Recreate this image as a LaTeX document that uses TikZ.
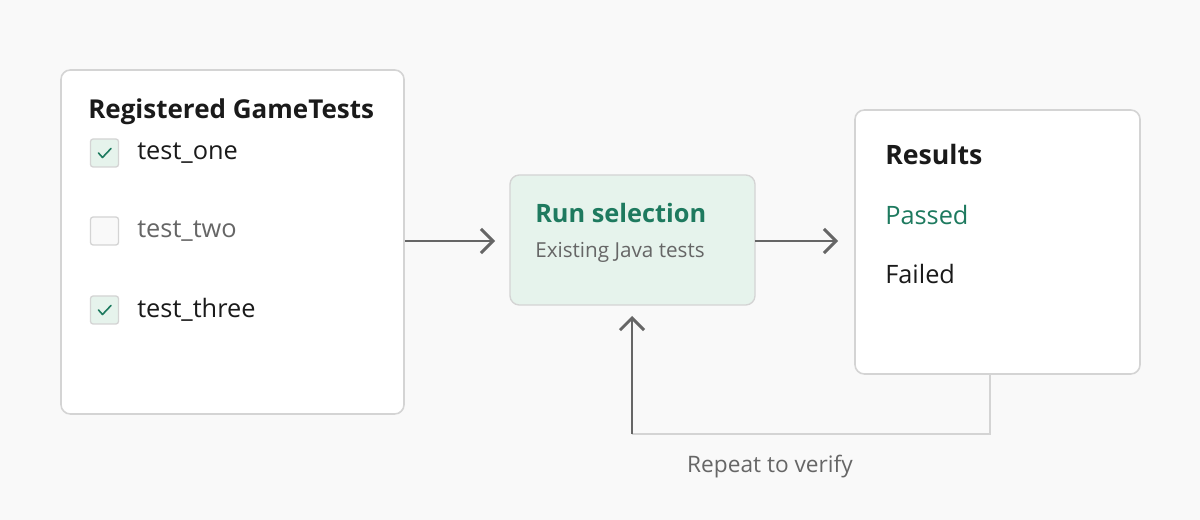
\documentclass[tikz,border=0pt]{standalone}
\usepackage{fontspec}
\setmainfont{Open Sans}
\usetikzlibrary{arrows.meta}
\definecolor{bg}{HTML}{F9F9F9}
\definecolor{bd}{HTML}{D4D4D4}
\definecolor{grn}{HTML}{1E7A5F}
\definecolor{lg}{HTML}{E6F3EC}
\definecolor{dg}{HTML}{666666}
\definecolor{tx}{HTML}{1A1A1A}
\begin{document}
\begin{tikzpicture}[x=0.75pt,y=-0.75pt,
 box/.style={draw=bd,line width=1.2pt,fill=white,rounded corners=7pt},
 cb/.style={draw=bd,line width=1pt,fill=#1,rounded corners=2pt,minimum size=21pt,inner sep=0pt},
 lbl/.style={anchor=west,inner sep=0pt,font=\fontsize{19}{21}\selectfont},
 arr/.style={draw=dg,line width=2.2pt,-{Straight Barb[length=9pt,width=18pt]}},
 chk/.style={draw=grn,line width=1.2pt,line cap=round,line join=round}]
\fill[bg] (0,0) rectangle (1200,520);
\useasboundingbox (0,0) rectangle (1200,520);
\draw[box] (61,70) rectangle (404,414);
\node[draw=bd,line width=1pt,fill=lg,rounded corners=7pt,minimum width=183.75pt,minimum height=97.5pt] (run) at (632.5,240) {};
\draw[box] (855,110) rectangle (1140,374);
\coordinate (L) at (405,241);
\node[lbl,font=\bfseries\fontsize{19.5}{22}\selectfont,text=tx] (title) at (88,112) {Registered GameTests};
\node[cb=lg] (c1) at (104.5,153) {};
\node[cb=bg] (c2) at (104.5,231) {};
\node[cb=lg] (c3) at (104.5,310) {};
\draw[chk] (98.5,153) -- (102.5,157.5) -- (111,148.5);
\draw[chk] (98.5,310) -- (102.5,314.5) -- (111,305.5);
\node[lbl,text=tx] (t1) at (137,153) {test\_one};
\node[lbl,text=dg] (t2) at (137,231) {test\_two};
\node[lbl,text=tx] (t3) at (137,310) {test\_three};
\node[lbl,font=\bfseries\fontsize{19}{22}\selectfont,text=grn] (rs) at (535,213) {Run selection};
\node[lbl,font=\fontsize{15.5}{17}\selectfont,text=dg] (ej) at (535,252) {Existing Java tests};
\node[lbl,font=\bfseries\fontsize{20}{23}\selectfont,text=tx] (res) at (885,155) {Results};
\node[lbl,text=grn] (ps) at (885,215) {Passed};
\node[lbl,text=tx] (fl) at (885,274) {Failed};
\node[inner sep=0pt,font=\fontsize{17}{19}\selectfont,text=dg] (rep) at (770,467) {Repeat to verify};
\coordinate (R) at (838,241);
\coordinate (a) at (990,375);
\coordinate (b) at (990,434);
\coordinate (c) at (632,434);
\coordinate (d) at (632,316);
\draw[arr] (L) -- (495,241);
\draw[arr] (755,241) -- (R);
\draw[draw=bd,line width=2.2pt] (a) -- (b) -- (c);
\draw[arr] (c) -- (d);
\end{tikzpicture}
\end{document}
